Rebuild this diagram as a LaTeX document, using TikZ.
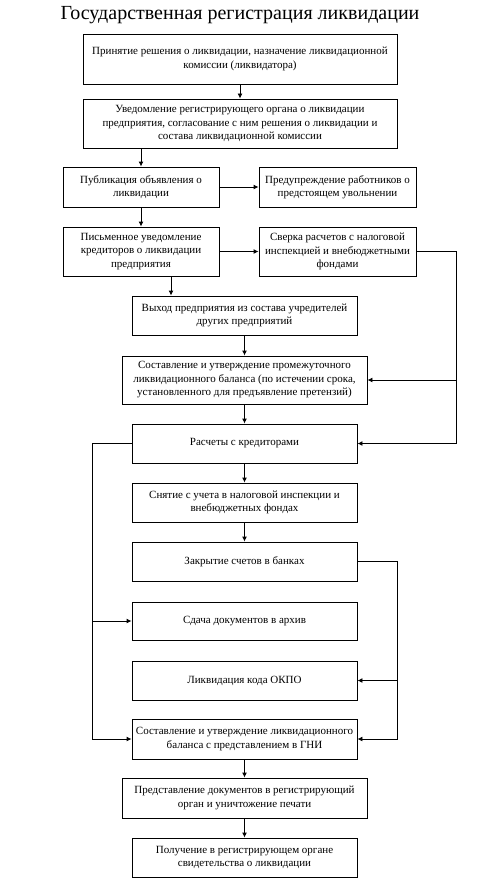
\documentclass[tikz,border=0pt]{standalone}
\usepackage{fontspec}
\setmainfont{Liberation Serif}
\usetikzlibrary{arrows.meta}
\begin{document}
\begin{tikzpicture}[x=1pt,y=-1pt,
  box/.style={draw,line width=0.9pt,inner sep=0pt,align=center,font=\fontsize{11}{13.5}\selectfont},
  arr/.style={line width=0.9pt,-{Latex[length=5pt,width=5pt]}},
  ln/.style={line width=0.9pt}]
\useasboundingbox (0,0) rectangle (479,880);
\node[font=\fontsize{20}{24}\selectfont] (title) at (240,15) {Государственная регистрация ликвидации};
\node[box,minimum width=314,minimum height=50] (b1) at (240,59) {Принятие решения о ликвидации, назначение ликвидационной\\комиссии (ликвидатора)};
\node[box,minimum width=314,minimum height=49] (b2) at (240,123.5) {Уведомление регистрирующего органа о ликвидации\\предприятия, согласование с ним решения о ликвидации и\\состава ликвидационной комиссии};
\node[box,minimum width=156,minimum height=40] (b3) at (141,187) {Публикация объявления о\\ликвидации};
\node[box,minimum width=157,minimum height=40] (b4) at (337.5,187) {Предупреждение работников о\\предстоящем увольнении};
\node[box,minimum width=156,minimum height=49] (b5) at (141,251.5) {Письменное уведомление\\кредиторов о ликвидации\\предприятия};
\node[box,minimum width=157,minimum height=49] (b6) at (337.5,251.5) {Сверка расчетов с налоговой\\инспекцией и внебюджетными\\фондами};
\node[box,minimum width=225,minimum height=39] (b7) at (244.5,315.5) {Выход предприятия из состава учредителей\\других предприятий};
\node[box,minimum width=245,minimum height=48] (b8) at (244.5,380) {Составление и утверждение промежуточного\\ликвидационного баланса (по истечении срока,\\установленного для предъявление претензий)};
\node[box,minimum width=225,minimum height=39] (b9) at (244.5,443.5) {Расчеты с кредиторами};
\node[box,minimum width=225,minimum height=39] (b10) at (244.5,502.5) {Снятие с учета в налоговой инспекции и\\внебюджетных фондах};
\node[box,minimum width=225,minimum height=39] (b11) at (244.5,561.5) {Закрытие счетов в банках};
\node[box,minimum width=225,minimum height=38] (b12) at (244.5,621) {Сдача документов в архив};
\node[box,minimum width=225,minimum height=39] (b13) at (244.5,680.5) {Ликвидация кода ОКПО};
\node[box,minimum width=225,minimum height=40] (b14) at (244.5,739) {Составление и утверждение ликвидационного\\баланса с представлением в ГНИ};
\node[box,minimum width=245,minimum height=40] (b15) at (244.5,798) {Представление документов в регистрирующий\\орган и уничтожение печати};
\node[box,minimum width=225,minimum height=39] (b16) at (244.5,857.5) {Получение в регистрирующем органе\\свидетельства о ликвидации};
\coordinate (R) at (456,0);
\coordinate (L) at (92,0);
\coordinate (R2) at (397,0);
\draw[arr] (b1) -- (b2);
\draw[arr] (b2.south -| b3.north) -- (b3.north);
\draw[arr] (b3.east) -- (b4.west);
\draw[arr] (b3) -- (b5);
\draw[arr] (b5.east) -- (b6.west);
\draw[arr] ([xshift=30]b5.south) -- ([xshift=30]b5.south |- b7.north);
\draw[arr] (b7) -- (b8);
\draw[arr] (b8) -- (b9);
\draw[arr] (b9) -- (b10);
\draw[arr] (b10) -- (b11);
\draw[arr] (b14) -- (b15);
\draw[arr] (b15) -- (b16);
\draw[arr] (b6.east) -| (R |- b9.east) -- (b9.east);
\draw[arr] (R |- b8.east) -- (b8.east);
\draw[arr] (b9.west) -| (L |- b14.west) -- (b14.west);
\draw[arr] (L |- b12.west) -- (b12.west);
\draw[arr] (b11.east) -| (R2 |- b14.east) -- (b14.east);
\draw[arr] (R2 |- b13.east) -- (b13.east);
\end{tikzpicture}
\end{document}
